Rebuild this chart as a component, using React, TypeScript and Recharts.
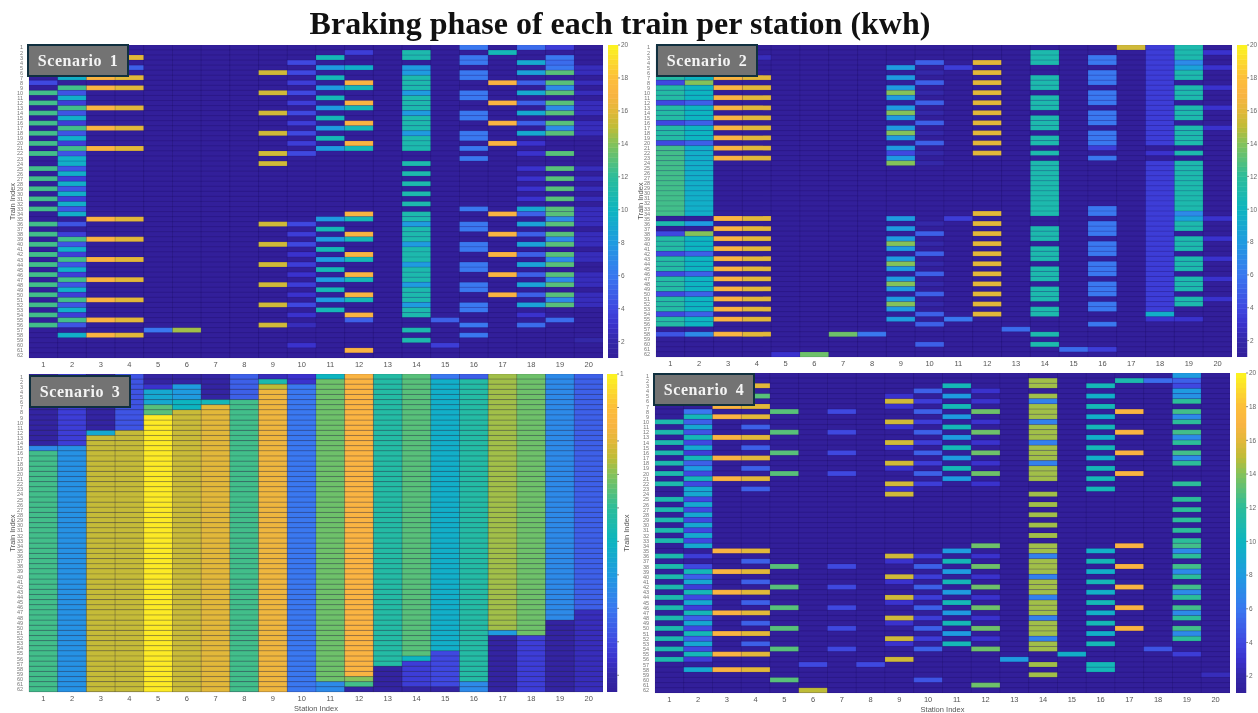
import { Bar, BarChart, Cell, XAxis, YAxis } from 'recharts';

const title = 'Braking phase of each train per station (kwh)';
const trains = Array.from({ length: 62 }, (_, i) => i + 1);
const stations = Array.from({ length: 20 }, (_, i) => i + 1);
const barTicks = [2, 4, 6, 8, 10, 12, 14, 16, 18, 20];

// each station: groups of [value, ...train numbers]; anything unlisted is the idle colour
const scenario1: number[][][] = [
  [[12.5, 10, 12, 14, 16, 18, 20, 22, 25, 27, 29, 31, 33, 36, 38, 40, 42, 44, 46, 48, 50, 52, 54, 56], [4, 8]],
  [[12.5, 9, 13, 17, 21, 39, 43, 47, 51, 55], [9.5, 7, 11, 15, 19, 23, 24, 26, 28, 30, 32, 34, 41, 45, 49, 53, 58], [4.5, 10, 14, 18, 22, 25, 29, 33, 36, 40, 44, 48, 52, 56], [3.5, 12, 16, 20, 27, 31, 38, 42, 46, 50, 54]],
  [[17, 3, 7, 9, 13, 17, 21, 35, 39, 43, 47, 51, 55, 58]],
  [[16, 3, 7, 9, 13, 17, 21, 35, 39, 43, 47, 51, 55, 58], [5, 5]],
  [[6, 57]],
  [[14.5, 57]],
  [],
  [],
  [[15.5, 6, 10, 14, 18, 22, 24, 36, 40, 44, 48, 52, 56]],
  [[4, 4, 6, 10, 14, 18, 22, 36, 40, 52], [3.5, 8, 12, 16, 20, 38, 44, 48], [3, 42, 46, 50, 54, 60], [2.5, 56]],
  [[10.5, 3, 7, 11, 15, 19, 37, 41, 45, 49, 53], [8, 5, 9, 13, 17, 21, 35, 39, 43, 47, 51]],
  [[3.5, 2], [9.5, 5], [17, 8, 12, 16, 20, 34, 38, 42, 46, 50, 54, 61], [10.5, 9, 13, 17, 21, 35, 39, 43, 47, 51], [5, 55]],
  [],
  [[11, 2, 3, 7, 8, 9, 11, 12, 13, 15, 16, 17, 19, 20, 21, 24, 26, 28, 30, 32, 34, 35, 37, 38, 39, 41, 42, 43, 45, 46, 47, 49, 50, 51, 53, 54, 57, 59], [8, 5, 6, 10, 14, 18, 36, 40, 44, 48, 52]],
  [[5, 55], [3.5, 60]],
  [[6, 1, 3, 4, 6, 7, 10, 11, 14, 15, 18, 19, 21, 23, 33, 36, 37, 40, 41, 44, 45, 48, 49, 52, 53, 56, 58]],
  [[10.5, 2], [17, 8, 12, 16, 20, 34, 38, 42, 46, 50]],
  [[5.5, 1, 56], [9, 4, 10, 14, 18, 33], [8.5, 6, 36, 40, 44, 48, 52], [5, 8, 12, 16, 34, 38, 42, 46, 50], [3, 20, 22, 25, 27, 29, 31, 54]],
  [[3.5, 1], [6, 3, 5], [5.5, 4, 55], [13, 6, 8, 10, 12, 14, 16, 18, 22, 25, 27, 29, 31, 33, 34, 36, 38, 40, 42, 44, 46, 48, 50, 52], [7, 9, 13, 17, 35, 39, 43, 47, 51]],
  [[2.5, 5, 6, 8, 10, 12, 13, 14, 16, 17, 18, 25, 27, 29, 31, 33, 34, 35, 36, 38, 39, 40, 42, 43, 46, 47, 48, 50, 51, 52], [2, 59]],
];

const scenario2: number[][][] = [
  [[11.5, 7, 9, 10, 11, 13, 14, 15, 17, 18, 19, 39, 40, 41, 43, 44, 45, 47, 48, 49, 51, 52, 53, 55, 56], [12.5, 21, 22, 23, 24, 25, 26, 27, 28, 29, 30, 31, 32, 33, 34], [11, 36], [4, 8, 12, 16, 20, 38, 42, 46, 50, 54], [4.5, 58]],
  [[10, 7, 9, 10, 11, 13, 14, 15, 17, 18, 19, 39, 40, 41, 43, 44, 45, 47, 48, 49, 51, 52, 53, 55, 56], [9.5, 21, 22, 23, 24, 25, 26, 27, 28, 29, 30, 31, 32, 33, 34], [14, 8, 38], [8, 36], [5, 12, 16, 20, 42, 46, 50, 54], [7, 58]],
  [[17, 7, 9, 11, 13, 15, 17, 19, 21, 23, 35, 37, 39, 41, 43, 45, 47, 49, 51, 53, 55, 58]],
  [[16, 7, 9, 11, 13, 15, 17, 19, 21, 23, 35, 37, 39, 41, 43, 45, 47, 49, 51, 53, 55, 58], [2.5, 3]],
  [[3, 62]],
  [[13.5, 62]],
  [[13.5, 58]],
  [[6, 58]],
  [[8, 5, 7, 9, 11, 13, 15, 17, 19, 21, 23, 35, 37, 39, 41, 43, 45, 47, 49, 51, 53, 55], [14, 10, 14, 18, 24, 40, 44, 48, 52], [4, 22]],
  [[5, 4, 8, 12, 16, 20, 38, 42, 46, 50, 54, 56, 60], [2, 6, 10, 14, 18, 22, 24, 36, 40, 44, 48, 52]],
  [[3.5, 5, 35], [6, 55]],
  [[16, 4, 6, 8, 10, 12, 14, 16, 18, 20, 22, 34, 36, 38, 40, 42, 44, 46, 48, 50, 52, 54]],
  [[5.5, 57]],
  [[11, 2, 3, 4, 7, 8, 9, 11, 12, 13, 15, 16, 17, 19, 20, 22, 24, 25, 26, 27, 28, 29, 30, 31, 32, 33, 34, 37, 38, 39, 41, 42, 43, 45, 46, 47, 49, 50, 51, 53, 54, 58, 60]],
  [[5.5, 61]],
  [[6, 3, 4, 6, 7, 8, 10, 11, 12, 14, 15, 16, 18, 19, 20, 23, 33, 34, 36, 37, 38, 40, 41, 42, 44, 45, 46, 48, 49, 50, 52, 53, 56], [3.5, 21, 61]],
  [[15.5, 1]],
  [[3.5, 1, 2, 3, 4, 5, 6, 7, 8, 9, 10, 11, 12, 13, 14, 15, 16, 17, 18, 19, 20, 24, 25, 26, 27, 28, 29, 30, 31, 32, 33, 34, 35, 36, 37, 38, 39, 40, 41, 42, 43, 44, 45, 46, 47, 48, 49, 50, 51, 52, 53], [3, 22, 55], [9.5, 54]],
  [[11, 1, 2, 3, 6, 7, 9, 10, 11, 13, 14, 15, 17, 18, 19, 20, 22, 24, 25, 26, 27, 28, 29, 30, 31, 32, 33, 36, 37, 39, 40, 41, 43, 44, 45, 47, 48, 49, 51, 52], [7, 4, 34], [8.5, 5, 35], [3, 55]],
  [[3, 2, 5, 9, 13, 17, 35, 39, 43, 47, 51]],
];

// scenario 3 is solid columns: each station reads top to bottom as [value, number of trains]
const scenario3Runs: number[][][] = [
  [[1.6, 14], [7, 1], [12.5, 47]],
  [[3.5, 14], [7.5, 48]],
  [[1.6, 11], [9, 1], [15.2, 50]],
  [[4.5, 11], [15.2, 51]],
  [[1.6, 2], [3, 1], [9, 3], [13, 2], [19.6, 54]],
  [[1.6, 2], [8, 3], [10, 2], [15.3, 55]],
  [[1.6, 5], [10.5, 1], [16, 56]],
  [[5, 5], [12.5, 57]],
  [[2.5, 1], [11, 1], [15, 1], [16.5, 59]],
  [[3, 2], [6, 60]],
  [[10, 1], [13.5, 59], [7, 2]],
  [[17, 59], [14, 1], [12.5, 1], [1.6, 1]],
  [[11.5, 57], [1.6, 5]],
  [[13, 55], [10, 1], [3.5, 5], [1.6, 1]],
  [[6, 1], [9.5, 53], [4, 7], [1.6, 1]],
  [[5, 1], [11.5, 59], [7, 2]],
  [[14.5, 50], [8, 1], [1.6, 11]],
  [[13.5, 51], [3.5, 11]],
  [[7, 48], [1.6, 14]],
  [[5, 46], [2.5, 16]],
];

const scenario4: number[][][] = [
  [[11, 10, 12, 14, 16, 18, 20, 22, 25, 27, 29, 31, 33, 36, 38, 40, 42, 44, 46, 48, 50, 52, 54, 56]],
  [[10.5, 9, 13, 17, 21, 39, 43, 47, 51, 55], [9, 11, 15, 23, 24, 26, 28, 30, 32, 34, 41, 45, 49, 53, 58], [8, 19], [6, 8], [5, 10, 18, 40, 48, 52], [4.5, 12], [4, 14, 20, 22, 25, 27, 29, 31, 33, 38, 44, 50, 54], [3.5, 16, 36, 42, 46, 56]],
  [[17, 7, 9, 13, 17, 21, 35, 39, 43, 47, 51, 55, 58]],
  [[16, 3, 7, 9, 13, 17, 21, 35, 39, 43, 47, 51, 55, 58], [13, 5], [5, 11, 15, 19, 23, 37, 41, 45, 49, 53]],
  [[13, 8, 12, 16, 20, 38, 42, 46, 50, 54, 60]],
  [[4, 57], [15, 62]],
  [[4, 8, 12, 16, 20, 38, 42, 46, 50, 54]],
  [[4, 57]],
  [[3, 5, 7, 11, 15, 19, 23, 37, 41, 45, 49, 53], [15.5, 6, 10, 14, 18, 22, 24, 36, 40, 44, 48, 52, 56]],
  [[5, 4, 8, 12, 16, 20, 38, 42, 46, 50, 54], [3.5, 6, 10, 14, 18, 22, 36, 40, 44, 48, 52], [4.5, 60]],
  [[10.5, 3, 7, 11, 15, 19, 37, 41, 45, 49, 53], [8, 5, 9, 13, 17, 21, 35, 39, 43, 47, 51]],
  [[3, 4, 6, 10, 14, 18, 22, 36, 40, 44, 48, 52], [13.5, 8, 12, 16, 20, 34, 38, 42, 46, 50, 54, 61]],
  [[8, 56]],
  [[14.5, 2, 3, 5, 7, 8, 9, 11, 12, 13, 15, 16, 17, 19, 20, 21, 24, 26, 28, 30, 32, 34, 35, 37, 38, 39, 41, 42, 43, 45, 46, 47, 49, 50, 51, 53, 54, 57, 59], [6.5, 6, 10, 14, 18, 36, 40, 44, 48, 52]],
  [[9.5, 55]],
  [[10.5, 3, 7, 11, 15, 19, 21, 23, 37, 41, 45, 49, 53, 57, 58], [9.5, 5, 9, 13, 17, 35, 39, 43, 47, 51]],
  [[11, 2], [17, 8, 12, 16, 20, 34, 38, 42, 46, 50]],
  [[5.5, 2], [4.5, 54]],
  [[8, 1, 4], [5, 2], [4, 3], [7.5, 5], [12, 6, 10, 14, 18, 22, 25, 27, 29, 31, 33, 36, 40, 44, 48, 52], [12.5, 8, 12, 16, 34, 38, 42, 46, 50], [7, 9, 13, 17, 35, 39, 43, 47, 51], [3.5, 55]],
  [[2.5, 59]],
];

const colorStops: [number, number[]][] = [
  [1, [50, 31, 154]],
  [2, [52, 40, 168]],
  [3, [58, 50, 205]],
  [4, [63, 72, 224]],
  [6, [58, 120, 240]],
  [8, [31, 155, 224]],
  [10, [13, 181, 192]],
  [12, [44, 189, 154]],
  [14, [132, 194, 90]],
  [15, [190, 188, 55]],
  [16, [226, 184, 58]],
  [17, [250, 180, 66]],
  [18, [252, 190, 58]],
  [20, [252, 245, 32]],
];

function valueColor(v: number) {
  let i = 0;
  while (i < colorStops.length - 2 && v > colorStops[i + 1][0]) i++;
  const [a, ca] = colorStops[i];
  const [b, cb] = colorStops[i + 1];
  const t = Math.min(1, Math.max(0, (v - a) / (b - a)));
  return `rgb(${ca.map((c, k) => Math.round(c + (cb[k] - c) * t)).join(',')})`;
}

function gridFromGroups(groups: number[][][]) {
  return groups.map((station) => {
    const col = trains.map(() => 1);
    station.forEach(([value, ...rows]) => rows.forEach((r) => (col[r - 1] = value)));
    return col;
  });
}

function gridFromRuns(runs: number[][][]) {
  return runs.map((station) => station.flatMap(([value, count]) => Array(count).fill(value) as number[]));
}

const rows = trains.map((train) => {
  const row: Record<string, number> = { train };
  stations.forEach((s) => (row[`st${s}`] = 1));
  return row;
});

const stationTicks = stations.map((s) => s - 0.5);

type PanelProps = {
  grid: number[][];
  left: number;
  top: number;
  axisWidth: number;
  plotW: number;
  plotH: number;
  xLabel?: boolean;
  lineColor: string;
  backing: string;
};

function Heatmap({ grid, left, top, axisWidth, plotW, plotH, xLabel, lineColor, backing }: PanelProps) {
  return (
    <div style={{ position: 'absolute', left, top }}>
      <div style={{ position: 'absolute', left: axisWidth, top: 0, width: plotW, height: plotH, background: backing }} />
      <BarChart
        width={axisWidth + plotW}
        height={plotH + 21}
        data={rows}
        layout="vertical"
        barCategoryGap={0}
        margin={{ top: 0, right: 0, bottom: 0, left: 0 }}
      >
        <XAxis
          type="number"
          domain={[0, 20]}
          ticks={stationTicks}
          interval={0}
          tickFormatter={(v: number) => String(v + 0.5)}
          tickLine={false}
          axisLine={false}
          height={21}
          tickMargin={-2}
          tick={{ fontSize: 7.5, fill: '#555', fontFamily: 'Liberation Sans' }}
          label={xLabel ? { value: 'Station Index', position: 'insideBottom', offset: 2, fontSize: 7.5, fill: '#555', fontFamily: 'Liberation Sans' } : undefined}
        />
        <YAxis
          type="category"
          dataKey="train"
          width={axisWidth}
          interval={0}
          tickLine={false}
          axisLine={false}
          tickMargin={0}
          tick={{ fontSize: 5.5, fill: '#777', fontFamily: 'Liberation Sans' }}
          label={{ value: 'Train Index', angle: -90, position: 'insideLeft', offset: 12, style: { textAnchor: 'middle' }, fontSize: 7.5, fill: '#555', fontFamily: 'Liberation Sans' }}
        />
        {stations.map((s) => (
          <Bar key={s} dataKey={`st${s}`} stackId="a" isAnimationActive={false} strokeWidth={0.5}>
            {rows.map((_, t) => (
              <Cell key={t} fill={valueColor(grid[s - 1][t])} stroke={lineColor} />
            ))}
          </Bar>
        ))}
      </BarChart>
    </div>
  );
}

const rampLevels = Array.from({ length: 64 }, (_, i) => i);
const rampRow: Record<string, number> = { base: 1 };
rampLevels.forEach((i) => (rampRow[`l${i}`] = 19 / 64));

function ColorBar({ left, top, height, blank }: { left: number; top: number; height: number; blank?: boolean }) {
  return (
    <div style={{ position: 'absolute', left, top: top - 4 }}>
      <BarChart width={28} height={height + 8} data={[rampRow]} barCategoryGap={0} margin={{ top: 4, right: 0, bottom: 4, left: 0 }}>
        <YAxis
          orientation="right"
          type="number"
          domain={[1, 20]}
          allowDataOverflow
          ticks={barTicks}
          width={18}
          interval={0}
          axisLine={false}
          tickSize={2}
          tickMargin={1}
          stroke="#888"
          tickFormatter={(v: number) => (blank ? (v === 20 ? '1' : '') : String(v))}
          tick={{ fontSize: 6.5, fill: '#666', fontFamily: 'Liberation Sans' }}
        />
        <Bar dataKey="base" stackId="r" fill="transparent" isAnimationActive={false} />
        {rampLevels.map((i) => {
          const c = valueColor(1 + ((i + 0.5) * 19) / 64);
          return <Bar key={i} dataKey={`l${i}`} stackId="r" fill={c} stroke={c} strokeWidth={0.5} isAnimationActive={false} />;
        })}
      </BarChart>
    </div>
  );
}

function ScenarioBox({ text, left, top }: { text: string; left: number; top: number }) {
  return (
    <div
      style={{
        position: 'absolute',
        left,
        top,
        width: 98,
        height: 29,
        background: '#737373',
        border: '2px solid #10303f',
        color: '#f4f4f4',
        fontFamily: 'Liberation Serif',
        fontWeight: 'bold',
        fontSize: 16,
        letterSpacing: 0.6,
        wordSpacing: 3,
        lineHeight: '29px',
        textAlign: 'center',
      }}
    >
      {text}
    </div>
  );
}

const grid1 = gridFromGroups(scenario1);
const grid2 = gridFromGroups(scenario2);
const grid3 = gridFromRuns(scenario3Runs);
const grid4 = gridFromGroups(scenario4);

const sparseLine = 'rgba(20,10,60,0.18)';
const sparseBacking = '#2e1c90';

export default function App() {
  return (
    <div style={{ position: 'absolute', left: 0, top: 0, width: 1258, height: 713, background: '#fff', overflow: 'hidden', filter: 'blur(0.4px)' }}>
      <div
        style={{
          position: 'absolute',
          left: 0,
          top: 5,
          width: 1240,
          textAlign: 'center',
          fontFamily: 'Liberation Serif',
          fontWeight: 'bold',
          fontSize: 32,
          lineHeight: '36px',
          color: '#111',
        }}
      >
        {title}
      </div>
      <Heatmap grid={grid1} left={0} top={45} axisWidth={29} plotW={574} plotH={313} lineColor={sparseLine} backing={sparseBacking} />
      <ColorBar left={608} top={45} height={313} />
      <Heatmap grid={grid2} left={628} top={45} axisWidth={28} plotW={576} plotH={312} lineColor={sparseLine} backing={sparseBacking} />
      <ColorBar left={1237} top={45} height={312} />
      <Heatmap grid={grid3} left={0} top={374} axisWidth={29} plotW={574} plotH={318} xLabel lineColor="rgba(30,20,50,0.3)" backing="#3a3a5a" />
      <ColorBar left={607} top={374} height={318} blank />
      <Heatmap grid={grid4} left={614} top={373} axisWidth={41} plotW={575} plotH={320} xLabel lineColor={sparseLine} backing={sparseBacking} />
      <ColorBar left={1236} top={373} height={320} />
      <ScenarioBox text="Scenario 1" left={27} top={44} />
      <ScenarioBox text="Scenario 2" left={656} top={44} />
      <ScenarioBox text="Scenario 3" left={29} top={375} />
      <ScenarioBox text="Scenario 4" left={653} top={373} />
    </div>
  );
}
